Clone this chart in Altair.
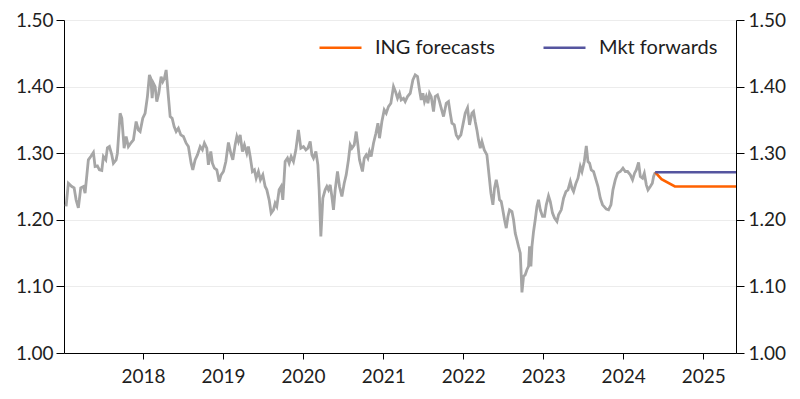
import altair as alt
import pandas as pd

# GBP/USD history: time in decimal years, value
hist_t = [
    2017.038, 2017.066, 2017.109, 2017.138, 2017.163, 2017.191, 2017.221, 2017.254, 2017.275, 2017.316,
    2017.346, 2017.379, 2017.400, 2017.429, 2017.454, 2017.484, 2017.504, 2017.534, 2017.554, 2017.579,
    2017.609, 2017.629, 2017.663, 2017.679, 2017.713, 2017.734, 2017.763, 2017.788, 2017.816, 2017.846,
    2017.879, 2017.913, 2017.941, 2017.963, 2017.996, 2018.025, 2018.054, 2018.079, 2018.096, 2018.113,
    2018.129, 2018.150, 2018.171, 2018.196, 2018.225, 2018.246, 2018.266, 2018.288, 2018.316, 2018.338,
    2018.363, 2018.388, 2018.413, 2018.441, 2018.471, 2018.504, 2018.538, 2018.566, 2018.600, 2018.621,
    2018.650, 2018.679, 2018.713, 2018.741, 2018.766, 2018.796, 2018.816, 2018.846, 2018.866, 2018.891,
    2018.921, 2018.950, 2018.975, 2019.004, 2019.034, 2019.066, 2019.096, 2019.121, 2019.150, 2019.171,
    2019.191, 2019.213, 2019.241, 2019.266, 2019.296, 2019.316, 2019.338, 2019.366, 2019.391, 2019.413,
    2019.441, 2019.466, 2019.496, 2019.525, 2019.546, 2019.575, 2019.600, 2019.629, 2019.650, 2019.671,
    2019.700, 2019.725, 2019.746, 2019.775, 2019.804, 2019.825, 2019.850, 2019.879, 2019.909, 2019.941,
    2019.971, 2020.004, 2020.034, 2020.059, 2020.088, 2020.109, 2020.129, 2020.159, 2020.184, 2020.200,
    2020.221, 2020.246, 2020.275, 2020.296, 2020.316, 2020.338, 2020.359, 2020.379, 2020.400, 2020.429,
    2020.454, 2020.484, 2020.513, 2020.538, 2020.566, 2020.588, 2020.609, 2020.638, 2020.663, 2020.684,
    2020.704, 2020.725, 2020.741, 2020.763, 2020.788, 2020.809, 2020.829, 2020.850, 2020.879, 2020.909,
    2020.934, 2020.954, 2020.984, 2021.013, 2021.038, 2021.066, 2021.096, 2021.129, 2021.154, 2021.179,
    2021.204, 2021.225, 2021.254, 2021.275, 2021.304, 2021.338, 2021.371, 2021.400, 2021.429, 2021.454,
    2021.475, 2021.496, 2021.516, 2021.538, 2021.559, 2021.579, 2021.600, 2021.629, 2021.650, 2021.679,
    2021.704, 2021.725, 2021.754, 2021.788, 2021.816, 2021.838, 2021.859, 2021.888, 2021.913, 2021.938,
    2021.971, 2021.996, 2022.025, 2022.054, 2022.079, 2022.109, 2022.129, 2022.150, 2022.171, 2022.191,
    2022.213, 2022.234, 2022.263, 2022.296, 2022.316, 2022.346, 2022.371, 2022.391, 2022.413, 2022.434,
    2022.454, 2022.475, 2022.491, 2022.516, 2022.538, 2022.559, 2022.579, 2022.609, 2022.629, 2022.650,
    2022.671, 2022.691, 2022.713, 2022.734, 2022.754, 2022.775, 2022.796, 2022.816, 2022.829, 2022.846,
    2022.859, 2022.879, 2022.900, 2022.921, 2022.941, 2022.963, 2022.991, 2023.016, 2023.038, 2023.066,
    2023.088, 2023.116, 2023.141, 2023.171, 2023.191, 2023.225, 2023.254, 2023.284, 2023.309, 2023.338,
    2023.359, 2023.379, 2023.409, 2023.434, 2023.463, 2023.484, 2023.513, 2023.538, 2023.559, 2023.579,
    2023.600, 2023.629, 2023.659, 2023.684, 2023.713, 2023.741, 2023.788, 2023.816, 2023.846, 2023.871,
    2023.900, 2023.929, 2023.963, 2023.996, 2024.025, 2024.054, 2024.088, 2024.116, 2024.141, 2024.163,
    2024.191, 2024.213, 2024.241, 2024.263, 2024.288, 2024.309, 2024.338, 2024.363, 2024.379, 2024.400,
]
hist_v = [
    1.220, 1.255, 1.250, 1.248, 1.230, 1.218, 1.248, 1.250, 1.240, 1.290,
    1.295, 1.301, 1.280, 1.281, 1.275, 1.274, 1.295, 1.290, 1.308, 1.310,
    1.2975, 1.285, 1.290, 1.300, 1.360, 1.3525, 1.3075, 1.325, 1.310, 1.315,
    1.320, 1.3475, 1.335, 1.3325, 1.3525, 1.360, 1.385, 1.4175, 1.4125, 1.3825,
    1.405, 1.400, 1.3775, 1.390, 1.415, 1.4075, 1.4125, 1.425, 1.385, 1.355,
    1.3525, 1.340, 1.3325, 1.3375, 1.3275, 1.325, 1.315, 1.310, 1.285, 1.275,
    1.290, 1.2975, 1.310, 1.305, 1.315, 1.3075, 1.2825, 1.3025, 1.285, 1.2775,
    1.275, 1.2575, 1.2675, 1.2725, 1.2875, 1.316, 1.300, 1.290, 1.3125, 1.325,
    1.3175, 1.3275, 1.3025, 1.3125, 1.300, 1.310, 1.295, 1.2725, 1.275, 1.2625,
    1.2725, 1.260, 1.2675, 1.250, 1.245, 1.230, 1.210, 1.215, 1.225, 1.220,
    1.245, 1.250, 1.230, 1.2875, 1.2925, 1.285, 1.295, 1.2875, 1.305, 1.335,
    1.3075, 1.310, 1.305, 1.3075, 1.3175, 1.2975, 1.2925, 1.3025, 1.2825, 1.245,
    1.175, 1.2325, 1.245, 1.250, 1.245, 1.2525, 1.235, 1.215, 1.245, 1.2725,
    1.250, 1.235, 1.255, 1.2675, 1.290, 1.3125, 1.3075, 1.3125, 1.3325, 1.3125,
    1.290, 1.280, 1.2725, 1.2925, 1.2975, 1.2925, 1.3025, 1.295, 1.315, 1.330,
    1.345, 1.3225, 1.3475, 1.365, 1.360, 1.370, 1.375, 1.400, 1.3925, 1.3825,
    1.390, 1.380, 1.3825, 1.3775, 1.385, 1.390, 1.410, 1.4175, 1.415, 1.395,
    1.380, 1.390, 1.3775, 1.385, 1.375, 1.390, 1.385, 1.3625, 1.385, 1.3875,
    1.3775, 1.3675, 1.355, 1.375, 1.3775, 1.360, 1.345, 1.3425, 1.3275, 1.3225,
    1.3275, 1.3425, 1.360, 1.368, 1.3425, 1.360, 1.3625, 1.3475, 1.335, 1.320,
    1.3075, 1.3175, 1.305, 1.2975, 1.275, 1.240, 1.2225, 1.2475, 1.260, 1.2475,
    1.230, 1.2275, 1.2175, 1.200, 1.1875, 1.205, 1.215, 1.2125, 1.200, 1.180,
    1.170, 1.160, 1.150, 1.091, 1.115, 1.1175, 1.125, 1.130, 1.160, 1.130,
    1.160, 1.1825, 1.200, 1.220, 1.230, 1.215, 1.205, 1.205, 1.2225, 1.236,
    1.2275, 1.210, 1.2025, 1.1975, 1.2075, 1.215, 1.2325, 1.2425, 1.245, 1.2575,
    1.2475, 1.2425, 1.255, 1.2625, 1.280, 1.2725, 1.2875, 1.311, 1.2875, 1.285,
    1.275, 1.2725, 1.260, 1.250, 1.2325, 1.2225, 1.216, 1.215, 1.2225, 1.245,
    1.260, 1.270, 1.2725, 1.2775, 1.2725, 1.2725, 1.2675, 1.260, 1.270, 1.275,
    1.286, 1.265, 1.2625, 1.270, 1.2525, 1.245, 1.250, 1.255, 1.265, 1.2715,
]

fc_dates = ["2024-05-26", "2024-06-24", "2024-08-24", "2024-11-24", "2025-02-24", "2025-05-30"]
ing_fc = [1.2715, 1.261, 1.250, 1.250, 1.250, 1.250]
mkt_fwd = [1.2715, 1.2715, 1.2715, 1.2715, 1.2715, 1.2715]
series_names = ["ING forecasts", "Mkt forwards"]
series_colors = ["#ff6200", "#55559f"]
y_ticks = [1.00, 1.10, 1.20, 1.30, 1.40, 1.50]
x_years = [2018, 2019, 2020, 2021, 2022, 2023, 2024, 2025]

base = pd.Timestamp("2018-01-01")
hist = pd.DataFrame({
    "date": [base + pd.Timedelta(days=(t - 2018) * 365.25) for t in hist_t],
    "value": hist_v,
})
fc = pd.DataFrame({
    "date": pd.to_datetime(fc_dates * 2),
    "value": ing_fc + mkt_fwd,
    "series": [series_names[0]] * len(fc_dates) + [series_names[1]] * len(fc_dates),
})

FONT = "Lato"
TXT = "#1e1e1e"

x_scale = alt.Scale(domain=[alt.DateTime(year=2017, month=1, date=5),
                            alt.DateTime(year=2025, month=5, date=30)])
x_axis = alt.Axis(values=[alt.DateTime(year=y, month=1, date=1) for y in x_years],
                  format="%Y", title=None, grid=False, domainColor="#000", tickColor="#000",
                  tickSize=6, labelPadding=8, labelFontSize=19, labelColor=TXT, labelFont=FONT)
y_scale = alt.Scale(domain=[1.0, 1.5], nice=False, zero=False)


def y_axis(orient, grid, pad):
    return alt.Axis(orient=orient, values=y_ticks, format=".2f", title=None, grid=grid,
                    gridColor="#ececec", gridWidth=1, domainColor="#000", tickColor="#000",
                    tickSize=8, labelPadding=pad, labelFontSize=19, labelColor=TXT, labelFont=FONT)


hist_line = alt.Chart(hist).mark_line(color="#a6a6a6", strokeWidth=2.8).encode(
    x=alt.X("date:T", scale=x_scale, axis=x_axis),
    y=alt.Y("value:Q", scale=y_scale, axis=y_axis("left", True, 3)),
)

fc_line = alt.Chart(fc).mark_line(strokeWidth=2.6).encode(
    x=alt.X("date:T", scale=x_scale, axis=x_axis),
    y=alt.Y("value:Q", scale=y_scale, axis=y_axis("right", False, 4)),
    color=alt.Color("series:N",
                    scale=alt.Scale(domain=series_names, range=series_colors),
                    legend=alt.Legend(orient="none", legendX=254, legendY=5, direction="horizontal",
                                      title=None, symbolType="stroke", symbolSize=1764,
                                      symbolStrokeWidth=2.6, labelFontSize=20, labelFont=FONT,
                                      labelColor=TXT, columnPadding=42, labelOffset=12, padding=0)),
)

chart = alt.layer(hist_line, fc_line).resolve_scale(y="independent").properties(
    width=672, height=333,
    autosize=alt.AutoSizeParams(type="none"),
    padding={"left": 56, "top": 12, "right": 56, "bottom": 38},
).configure_view(stroke=None).configure(font=FONT)

chart.save("out.html", embed_options={"renderer": "svg", "actions": False})
